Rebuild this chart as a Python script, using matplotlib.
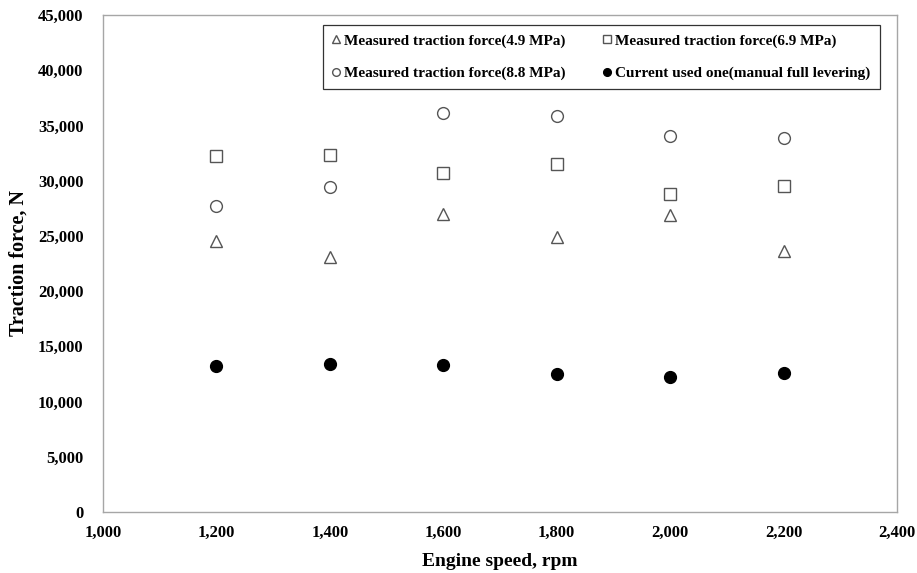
import matplotlib
matplotlib.use("Agg")
import matplotlib.pyplot as plt
from matplotlib.ticker import FuncFormatter, MultipleLocator

plt.rcParams['font.family'] = ['Liberation Serif', 'DejaVu Serif']
plt.rcParams['font.weight'] = 'bold'

engine_speed = [1200, 1400, 1600, 1800, 2000, 2200]
force_49 = [24500, 23100, 27000, 24900, 26900, 23600]
force_69 = [32200, 32300, 30700, 31500, 28800, 29500]
force_88 = [27700, 29400, 36100, 35900, 34000, 33900]
force_current = [13200, 13400, 13300, 12500, 12200, 12600]

labels = ["Measured traction force(4.9 MPa)",
          "Measured traction force(6.9 MPa)",
          "Measured traction force(8.8 MPa)",
          "Current used one(manual full levering)"]

fig = plt.figure(figsize=(9.17, 5.73), dpi=100)
ax = fig.add_axes([0.1123, 0.1065, 0.8659, 0.8673])

edge = '#555555'
ms = 8.5
h1, = ax.plot(engine_speed, force_49, linestyle='none', marker='^', ms=ms,
              mfc='white', mec=edge, mew=1.0)
h2, = ax.plot(engine_speed, force_69, linestyle='none', marker='s', ms=ms - 0.5,
              mfc='white', mec=edge, mew=1.0)
h3, = ax.plot(engine_speed, force_88, linestyle='none', marker='o', ms=ms,
              mfc='white', mec=edge, mew=1.0)
h4, = ax.plot(engine_speed, force_current, linestyle='none', marker='o', ms=ms,
              mfc='black', mec='black', mew=1.0)

ax.set_xlim(1000, 2400)
ax.set_ylim(0, 45000)
ax.xaxis.set_major_locator(MultipleLocator(200))
ax.yaxis.set_major_locator(MultipleLocator(5000))
fmt = FuncFormatter(lambda v, p: f"{int(round(v)):,}")
ax.xaxis.set_major_formatter(fmt)
ax.yaxis.set_major_formatter(fmt)

ax.tick_params(axis='both', length=0, labelsize=12)
ax.tick_params(axis='y', pad=14)
ax.tick_params(axis='x', pad=9)
for lab in ax.get_xticklabels() + ax.get_yticklabels():
    lab.set_fontweight('bold')

for s in ax.spines.values():
    s.set_color('#a6a6a6')
    s.set_linewidth(1.0)

ax.set_xlabel("Engine speed, rpm", fontsize=14, fontweight='bold', labelpad=9)
ax.set_ylabel("Traction force, N", fontsize=14.5, fontweight='bold')
ax.yaxis.set_label_coords(-0.094, 0.5)

leg = ax.legend([h1, h3, h2, h4], [labels[0], labels[2], labels[1], labels[3]],
                ncol=2, loc='upper left', bbox_to_anchor=(0.277, 0.98, 0.701, 0.0),
                mode='expand', frameon=True, fancybox=False, markerscale=0.65,
                handlelength=0.5, handletextpad=0.25, borderpad=0.6,
                labelspacing=1.2, borderaxespad=0.0, columnspacing=1.0,
                prop={'family': 'Liberation Serif', 'weight': 'bold', 'size': 11})
leg.get_frame().set_edgecolor('black')
leg.get_frame().set_linewidth(0.9)

fig.savefig("out.png", dpi=100)
